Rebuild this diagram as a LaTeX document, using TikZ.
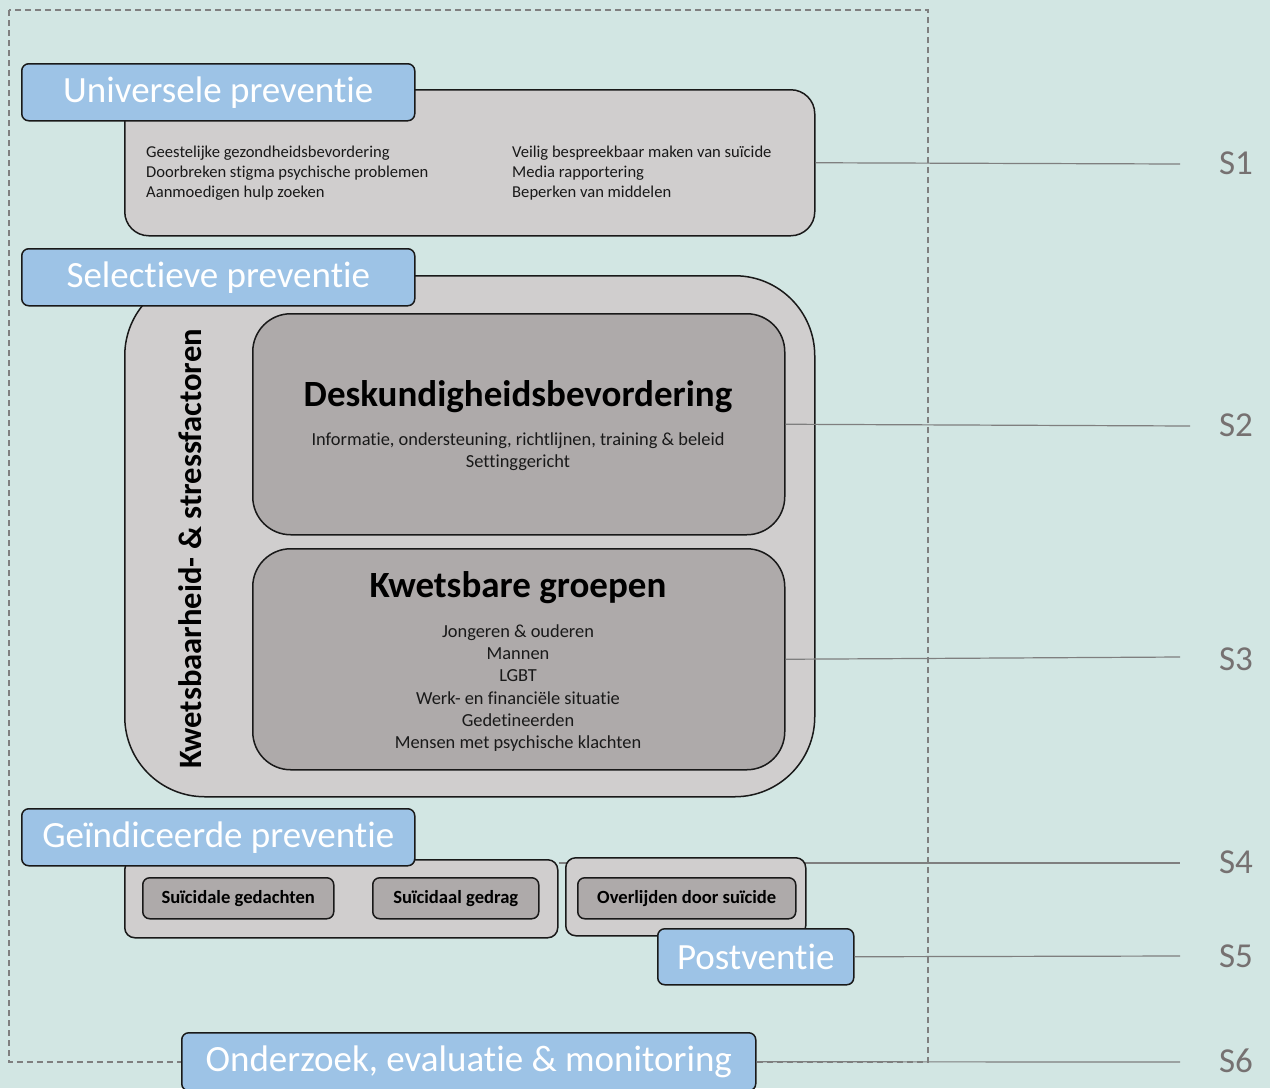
\documentclass[tikz,border=0pt]{standalone}
\usepackage{fontspec}
\setmainfont{Carlito}[Ligatures={TeX,NoCommon}]
\definecolor{bgteal}{HTML}{D2E6E3}
\definecolor{tagblue}{HTML}{9DC3E6}
\definecolor{lightgray}{HTML}{D0CECE}
\definecolor{midgray}{HTML}{AEAAAA}
\definecolor{linegray}{HTML}{7F7F7F}
\definecolor{labgray}{HTML}{767171}
\begin{document}
\begin{tikzpicture}[x=1pt,y=-1pt,
  tagbox/.style={draw=black!90, line width=1.5pt, fill=tagblue, rounded corners=7pt, anchor=north west,
     text=white, inner sep=0pt, font=\fontsize{37}{44}\selectfont},
  graybox/.style={draw=black!90, line width=1.5pt, fill=lightgray, anchor=north west, inner sep=0pt},
  darkbox/.style={draw=black!90, line width=1.5pt, fill=midgray, anchor=north west, inner sep=0pt},
  smalltxt/.style={font=\fontsize{16.6}{20}\selectfont, align=left, inner sep=0pt, text=black!90},
  midtxt/.style={font=\fontsize{18.4}{22.2}\selectfont, align=center, inner sep=0pt, text=black!90},
  bigtitle/.style={font=\bfseries\fontsize{37}{44}\selectfont, inner sep=0pt},
  btntxt/.style={font=\bfseries\fontsize{18.6}{22}\selectfont},
  slab/.style={font=\fontsize{35}{40}\selectfont, text=labgray, inner sep=0pt},
  conn/.style={draw=linegray, line width=1.2pt},
  dashbox/.style={draw=linegray, line width=1.3pt, dash pattern=on 6pt off 4pt}]
\useasboundingbox (0,0) rectangle (1270,1088);
\fill[bgteal] (0,0) rectangle (1270,1088);
\draw[dashbox] (9,10) rectangle (928,1062);

% S labels and line ends
\node[slab] (s1) at (1236,163) {S1};
\node[slab] (s2) at (1236,425) {S2};
\node[slab] (s3) at (1236,659) {S3};
\node[slab] (s4) at (1236,862) {S4};
\node[slab] (s5) at (1236,956) {S5};
\node[slab] (s6) at (1236,1061) {S6};
\coordinate (e1) at (1180,164);
\coordinate (e2) at (1190,426);
\coordinate (e3) at (1180,657);
\coordinate (e4) at (1180,863);
\coordinate (e5) at (1180,956);
\coordinate (e6) at (1180,1062);

% Universele preventie
\node[graybox, rounded corners=24pt, minimum width=690pt, minimum height=146pt] (u) at (124,89) {};
\node[smalltxt, anchor=west] (ul) at (146,173) {Geestelijke gezondheidsbevordering\\Doorbreken stigma psychische problemen\\Aanmoedigen hulp zoeken};
\node[smalltxt, anchor=west] (ur) at (512,173) {Veilig bespreekbaar maken van suïcide\\Media rapportering\\Beperken van middelen};
\node[tagbox, minimum width=393pt, minimum height=57pt] (up) at (21,63) {Universele preventie};

% Selectieve preventie
\node[graybox, rounded corners=80pt, minimum width=690pt, minimum height=521pt] (sel) at (124,275) {};
\node[rotate=90, font=\bfseries\fontsize{32.6}{38}\selectfont, inner sep=0pt] (kw) at (190,549) {Kwetsbaarheid- \& stressfactoren};
\node[darkbox, rounded corners=38pt, minimum width=532pt, minimum height=221pt] (desk) at (252,313) {};
\node[bigtitle] (deskt) at (518,397) {Deskundigheidsbevordering};
\node[midtxt] (desks) at (518,452) {Informatie, ondersteuning, richtlijnen, training \& beleid\\Settinggericht};
\node[darkbox, rounded corners=38pt, minimum width=532pt, minimum height=221pt] (kwg) at (252,548) {};
\node[bigtitle] (kwgt) at (518,588) {Kwetsbare groepen};
\node[midtxt] (kwgs) at (518,688) {Jongeren \& ouderen\\Mannen\\LGBT\\Werk- en financiële situatie\\Gedetineerden\\Mensen met psychische klachten};
\node[tagbox, minimum width=393pt, minimum height=57pt] (sp) at (21,248) {Selectieve preventie};

% Geindiceerde preventie
\node[graybox, rounded corners=10pt, minimum width=433pt, minimum height=78pt] (g1) at (124,859) {};
\draw[conn] (g1.east |- e4) -- (e4);
\node[darkbox, rounded corners=7pt, minimum width=191pt, minimum height=41pt, btntxt] (i1) at (142,877) {Suïcidale gedachten};
\node[darkbox, rounded corners=7pt, minimum width=166pt, minimum height=41pt, btntxt] (i2) at (372,877) {Suïcidaal gedrag};
\node[graybox, rounded corners=10pt, minimum width=240pt, minimum height=78pt] (g2) at (565,857) {};
\node[darkbox, rounded corners=7pt, minimum width=218pt, minimum height=41pt, btntxt] (i3) at (577,877) {Overlijden door suïcide};
\node[tagbox, minimum width=393pt, minimum height=57pt] (gp) at (21,808) {Geïndiceerde preventie};
\node[tagbox, minimum width=196pt, minimum height=56pt] (post) at (657,928) {Postventie};
\node[tagbox, minimum width=574pt, minimum height=58pt] (ond) at (181,1032) {Onderzoek, evaluatie \& monitoring};

% connectors
\draw[conn] (u.east) -- (e1);
\draw[conn] (desk.east) -- (e2);
\draw[conn] (kwg.east) -- (e3);
\draw[conn] (post.east) -- (e5);
\draw[conn] (ond.east) -- (e6);
\end{tikzpicture}
\end{document}
